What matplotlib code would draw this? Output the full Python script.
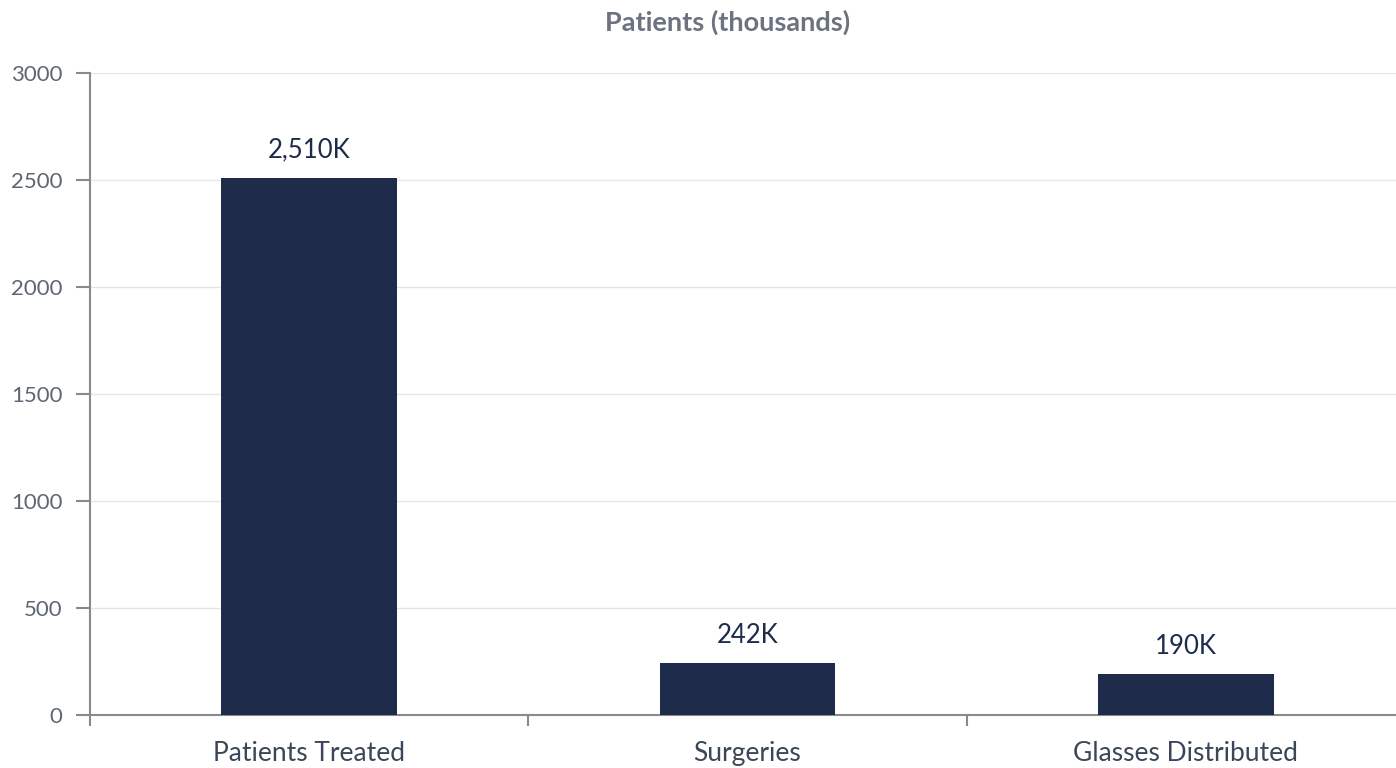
import numpy as np
import matplotlib.pyplot as plt

plt.rcParams['font.family'] = ['Lato', 'DejaVu Sans']

# Data
categories = ['Patients Treated', 'Surgeries', 'Glasses Distributed']
values = [2510, 242, 190]
value_labels = ['2,510K', '242K', '190K']

bar_color = '#1e2b4b'
axis_color = '#8a8a8a'

fig = plt.figure(figsize=(13.96, 7.68), dpi=100)
ax = fig.add_axes([90 / 1396, 53 / 768, 1315 / 1396, 642 / 768])

x = np.arange(len(categories))
bars = ax.bar(x, values, width=0.4, color=bar_color, zorder=3)

for xi, v, lab in zip(x, values, value_labels):
    ax.annotate(lab, (xi, v), xytext=(0, 11), textcoords='offset points',
                ha='center', va='bottom', fontsize=18.5, color=bar_color)

ax.set_xlim(-0.5, 2.5)
ax.set_ylim(0, 3000)
ax.set_yticks(np.arange(0, 3001, 500))
ax.set_xticks(x)
ax.set_xticklabels(categories, fontsize=19, color='#3b4658')
ax.set_xticks([-0.5, 0.5, 1.5], minor=True)
ax.tick_params(axis='x', which='major', length=0, pad=19)
ax.tick_params(axis='x', which='minor', length=8, width=1.5, color=axis_color, direction='out')
ax.tick_params(axis='y', length=10, width=1.5, color=axis_color, labelsize=16,
               labelcolor='#5f6673', pad=10)

ax.grid(axis='y', color='#e6e6e6', linewidth=1, zorder=0)
for side in ['top', 'right']:
    ax.spines[side].set_visible(False)
for side in ['left', 'bottom']:
    ax.spines[side].set_color(axis_color)
    ax.spines[side].set_linewidth(1.5)

fig.text(728 / 1396, 1 - 22 / 768, 'Patients (thousands)', ha='center', va='center',
         fontsize=19.5, fontweight='bold', color='#6b7280')

fig.savefig('out.png', dpi=100)
